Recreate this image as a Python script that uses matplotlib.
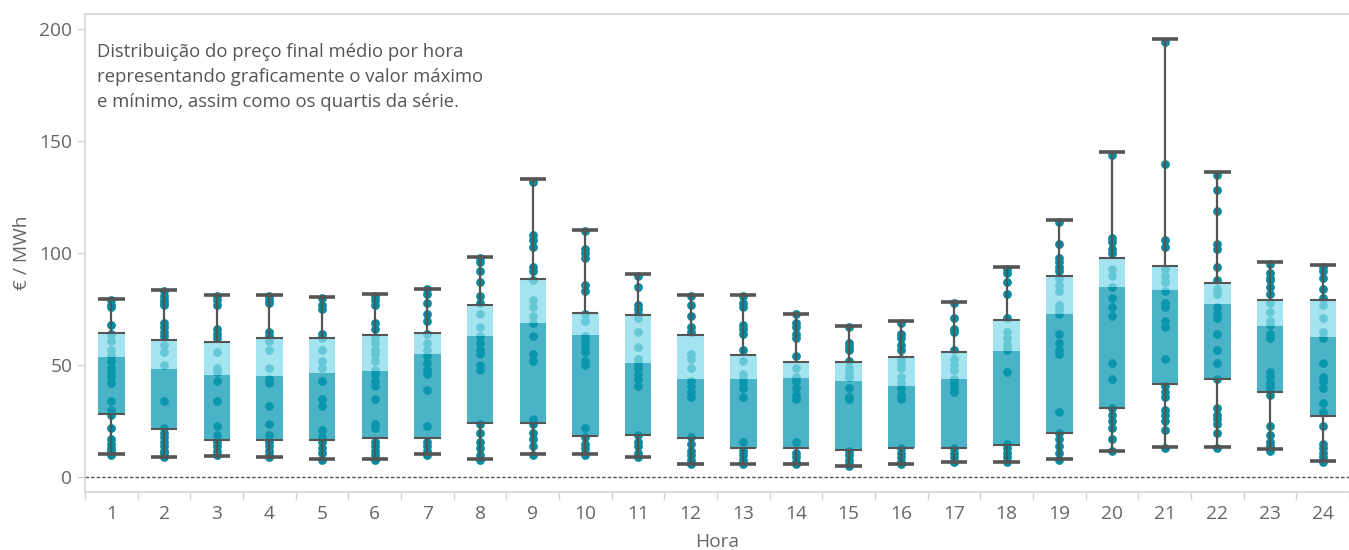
import matplotlib
matplotlib.use("Agg")
import matplotlib.pyplot as plt
import numpy as np

plt.rcParams['font.family'] = ['Open Sans', 'DejaVu Sans']

hours = list(range(1, 25))
hour_labels = [str(h) for h in hours]

# Box statistics (€/MWh)
mins = [10.4, 9.1, 9.5, 9.1, 8.2, 8.2, 10.4, 8.2, 10.4, 10.4, 9.1, 5.9,
        5.9, 5.9, 5.0, 5.9, 6.8, 6.8, 8.2, 11.7, 13.5, 13.5, 12.6, 7.3]
q1s = [28.3, 21.6, 16.7, 16.7, 16.7, 17.6, 17.6, 24.2, 24.2, 18.4, 18.9, 17.6,
       13.1, 13.1, 12.2, 13.1, 13.1, 14.4, 19.8, 30.9, 41.7, 43.9, 38.1, 27.4]
medians = [53.6, 48.2, 45.5, 45.1, 46.4, 47.3, 54.9, 63.1, 69.1, 63.5, 50.9, 43.8,
           43.8, 44.2, 42.9, 40.6, 43.8, 56.4, 72.9, 85.0, 83.6, 77.4, 67.5, 62.6]
q3s = [64.4, 61.2, 60.4, 62.2, 62.2, 63.5, 64.4, 76.9, 88.5, 73.2, 72.5, 63.5,
       54.5, 51.5, 51.5, 53.7, 55.9, 70.2, 89.9, 97.9, 94.3, 86.7, 79.2, 79.2]
maxs = [79.6, 83.6, 81.4, 81.4, 80.5, 81.8, 84.1, 98.4, 133.2, 110.4, 90.8, 81.4,
        81.4, 72.9, 67.5, 69.8, 78.3, 93.9, 114.9, 145.2, 195.7, 136.3, 96.1, 94.8]

# Individual daily values per hour (€/MWh)
h01 = [79, 77, 76, 68, 64, 61, 57, 54, 52, 49, 47, 45, 42, 34, 30, 28, 22, 17, 15, 13, 12, 10]
h02 = [83, 81, 79, 78, 77, 69, 67, 65, 63, 59, 56, 50, 34, 22, 20, 18, 16, 14, 12, 11, 9]
h03 = [81, 79, 77, 66, 64, 62, 56, 49, 47, 43, 34, 23, 19, 16, 14, 12, 10]
h04 = [81, 79, 78, 65, 63, 61, 57, 49, 44, 42, 32, 24, 19, 16, 14, 12, 10, 9]
h05 = [80, 77, 75, 64, 62, 57, 52, 49, 43, 35, 32, 21, 18, 16, 13, 11, 8]
h06 = [81, 79, 77, 69, 66, 62, 60, 57, 55, 52, 48, 46, 43, 41, 35, 24, 22, 16, 14, 12, 10, 8]
h07 = [84, 82, 78, 73, 70, 64, 60, 57, 54, 51, 48, 46, 39, 23, 16, 14, 12, 10]
h08 = [98, 96, 92, 87, 81, 78, 73, 67, 63, 60, 57, 55, 50, 48, 24, 20, 16, 13, 10, 8]
h09 = [132, 108, 106, 103, 94, 92, 88, 79, 76, 72, 69, 63, 55, 52, 26, 24, 20, 17, 14, 10]
h10 = [110, 102, 100, 98, 86, 83, 73, 70, 63, 61, 58, 56, 52, 50, 22, 18, 15, 13, 11, 10]
h11 = [90, 85, 77, 75, 73, 71, 65, 58, 53, 51, 49, 46, 44, 41, 19, 16, 14, 11, 9]
h12 = [81, 77, 72, 67, 65, 55, 53, 49, 43, 41, 38, 36, 18, 15, 12, 10, 8, 6]
h13 = [81, 78, 76, 68, 66, 64, 57, 52, 46, 44, 42, 40, 36, 16, 12, 10, 8, 6]
h14 = [73, 69, 67, 64, 62, 54, 49, 45, 43, 40, 37, 35, 16, 11, 9, 7, 6]
h15 = [67, 60, 58, 57, 52, 49, 47, 45, 40, 36, 35, 12, 10, 8, 6, 5]
h16 = [69, 64, 62, 59, 57, 53, 51, 49, 45, 42, 40, 37, 35, 13, 11, 9, 7, 6]
h17 = [78, 71, 66, 65, 57, 53, 50, 48, 44, 42, 40, 38, 13, 11, 9, 7]
h18 = [93, 91, 87, 82, 71, 65, 62, 59, 57, 47, 15, 13, 11, 9, 7]
h19 = [114, 104, 98, 96, 94, 92, 89, 86, 83, 77, 75, 73, 64, 60, 57, 55, 29, 20, 17, 14, 11, 8]
h20 = [144, 107, 105, 102, 100, 93, 90, 85, 80, 76, 72, 51, 44, 31, 28, 25, 22, 17, 12]
h21 = [194, 140, 106, 103, 93, 90, 87, 83, 78, 76, 70, 67, 53, 41, 38, 36, 30, 28, 25, 21, 13]
h22 = [135, 128, 119, 104, 102, 94, 88, 84, 82, 76, 73, 71, 64, 57, 51, 44, 31, 28, 26, 24, 20, 13]
h23 = [95, 91, 89, 88, 85, 82, 78, 74, 70, 68, 64, 62, 47, 45, 42, 40, 37, 23, 19, 16, 14, 12]
h24 = [94, 92, 89, 84, 80, 77, 71, 65, 62, 51, 45, 43, 40, 33, 29, 23, 15, 13, 11, 9, 7]
points = [h01, h02, h03, h04, h05, h06, h07, h08, h09, h10, h11, h12,
          h13, h14, h15, h16, h17, h18, h19, h20, h21, h22, h23, h24]

annotation = ("Distribuição do preço final médio por hora\n"
              "representando graficamente o valor máximo\n"
              "e mínimo, assim como os quartis da série.")

fig = plt.figure(figsize=(13.49, 5.5), dpi=100)
ax = fig.add_axes([85 / 1349, 1 - 491.5 / 550, (1349 - 85) / 1349, (491.5 - 14) / 550])

DOT = '#088b9d'
LOWER = '#0e9ab4'
UPPER = '#86dceb'
WHISK = '#555555'
BW = 0.5
FS = 13.8

# dots
for h, vals in zip(hours, points):
    ax.scatter([h] * len(vals), vals, s=40, color=DOT, linewidths=0, zorder=2)

x = np.array(hours, dtype=float)
q1a = np.array(q1s); meda = np.array(medians); q3a = np.array(q3s)
ax.bar(x, meda - q1a, bottom=q1a, width=BW, color=LOWER, alpha=0.75, zorder=3, linewidth=0)
ax.bar(x, q3a - meda, bottom=meda, width=BW, color=UPPER, alpha=0.75, zorder=3, linewidth=0)

ax.vlines(x, mins, q1s, color=WHISK, linewidth=1.6, zorder=4)
ax.vlines(x, q3s, maxs, color=WHISK, linewidth=1.6, zorder=4)
ax.hlines(mins, x - BW / 2, x + BW / 2, color=WHISK, linewidth=2.6, zorder=4)
ax.hlines(maxs, x - BW / 2, x + BW / 2, color=WHISK, linewidth=2.6, zorder=4)
ax.hlines(q1s, x - BW / 2, x + BW / 2, color=WHISK, linewidth=1.5, zorder=4)
ax.hlines(q3s, x - BW / 2, x + BW / 2, color=WHISK, linewidth=1.5, zorder=4)

ax.axhline(0, color='#555555', linewidth=1.0, linestyle=(0, (2.5, 1.5)), zorder=1)

ax.set_xlim(0.5, 24.45)
ax.set_ylim(-6.25, 206.7)

ax.set_xticks(hours)
ax.set_xticklabels(hour_labels)
ax.set_xticks(np.arange(0.5, 25, 1.0), minor=True)
ax.tick_params(axis='x', which='major', length=0, pad=10, labelsize=FS, labelcolor='#666666')
ax.tick_params(axis='x', which='minor', length=6, width=1, color='#d4d4d4')
ax.set_yticks([0, 50, 100, 150, 200])
ax.tick_params(axis='y', length=6, width=1, color='#d4d4d4', labelsize=FS,
               labelcolor='#666666', pad=3)

for side in ['left', 'bottom', 'top']:
    ax.spines[side].set_color('#d4d4d4')
    ax.spines[side].set_linewidth(1.2)
ax.spines['right'].set_visible(False)

ax.set_xlabel('Hora', fontsize=FS, color='#666666', labelpad=7)
ax.set_ylabel('€ / MWh', fontsize=FS, color='#666666', labelpad=6)

fig.text(97 / 1349, 1 - 43 / 550, annotation, fontsize=13.3, color='#555555',
         va='top', ha='left', linespacing=1.5)

fig.savefig('out.png', dpi=100)
